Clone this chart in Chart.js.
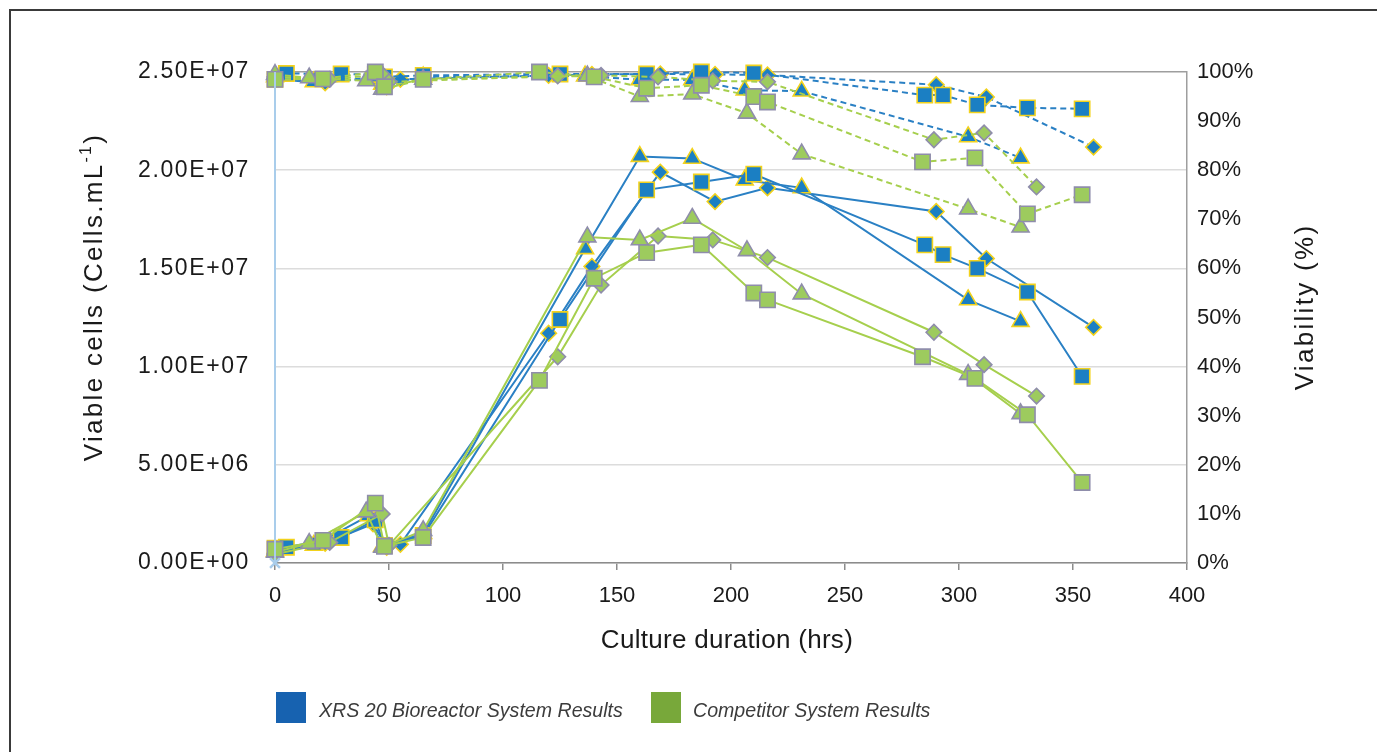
<!DOCTYPE html>
<html><head><meta charset="utf-8">
<script src="https://cdn.jsdelivr.net/npm/chart.js@4.4.1/dist/chart.umd.min.js"></script>
<style>
html,body{margin:0;padding:0;background:#fff;overflow:hidden;width:1377px;height:752px;}
#wrap{position:relative;width:1377px;height:752px;overflow:hidden;}
#frame{position:absolute;left:9px;top:9px;width:1400px;height:800px;border:2px solid #3a3a3a;box-sizing:border-box;}
canvas{position:absolute;left:0;top:0;}
.sw{position:absolute;width:30px;height:31px;top:692px;}
.lt{position:absolute;top:695px;font:italic 19.6px "Liberation Sans",Arial,sans-serif;color:#3c3c3c;white-space:nowrap;line-height:30px;}
</style></head><body>
<div id="wrap"><div id="frame"></div><canvas id="c" width="1377" height="752"></canvas>
<div class="sw" style="left:276px;background:#1762b0"></div><div class="lt" style="left:319px">XRS 20 Bioreactor System Results</div>
<div class="sw" style="left:651px;background:#78a83a"></div><div class="lt" style="left:693px">Competitor System Results</div>
</div>
<script>
// ---- data (time in hours, viable cells per mL, viability %) ----
const xrsSqHours = [0, 5, 29, 44, 48, 65, 125, 163, 187, 210, 285, 293, 308, 330, 354];
const xrsSqCells = [0.75e6, 0.8e6, 1.3e6, 2.2e6, 0.9e6, 1.4e6, 1.24e7, 1.9e7, 1.94e7, 1.98e7, 1.62e7, 1.57e7, 1.5e7, 1.38e7, 9.5e6];
const xrsSqViab  = [98.5, 99.7, 99.6, 99.5, 99.0, 99.3, 99.6, 99.6, 100, 99.8, 95.3, 95.3, 93.3, 92.7, 92.5];

const xrsTriHours = [0, 17, 41, 47, 65, 136, 160, 183, 206, 231, 304, 327];
const xrsTriCells = [0.6e6, 0.9e6, 2.4e6, 0.85e6, 1.5e6, 1.6e7, 2.07e7, 2.06e7, 1.95e7, 1.91e7, 1.34e7, 1.23e7];
const xrsTriViab  = [99, 98, 98.5, 97.5, 99, 99.2, 98.4, 98.4, 96.3, 96.1, 86.8, 82.5];

const xrsDiaHours = [0, 22, 43, 49, 55, 120, 139, 169, 193, 216, 290, 312, 359];
const xrsDiaCells = [0.5e6, 1.0e6, 2.0e6, 0.8e6, 0.95e6, 1.17e7, 1.51e7, 1.99e7, 1.84e7, 1.91e7, 1.79e7, 1.55e7, 1.2e7];
const xrsDiaViab  = [98.5, 97.8, 99.0, 97.0, 98.5, 99.3, 99.5, 99.6, 99.5, 99.4, 97.4, 94.9, 84.7];

const compSqHours = [0, 21, 44, 48, 65, 116, 140, 163, 187, 210, 216, 284, 307, 330, 354];
const compSqCells = [0.7e6, 1.15e6, 3.05e6, 0.85e6, 1.3e6, 9.3e6, 1.45e7, 1.58e7, 1.62e7, 1.375e7, 1.34e7, 1.05e7, 9.4e6, 7.55e6, 4.1e6];
const compSqViab  = [98.5, 98.6, 100, 97, 98.5, 100, 99.0, 96.7, 97.3, 95.0, 93.9, 81.7, 82.5, 71.1, 75];

const compTriHours = [0, 15, 40, 47, 65, 137, 160, 183, 207, 231, 304, 327];
const compTriCells = [0.55e6, 1.0e6, 2.6e6, 0.8e6, 1.65e6, 1.66e7, 1.645e7, 1.755e7, 1.59e7, 1.37e7, 9.6e6, 7.6e6];
const compTriViab  = [99.5, 98.8, 98.2, 96.5, 98.5, 99.2, 95.0, 95.5, 91.6, 83.3, 72.1, 68.4];

const compDiaHours = [0, 24, 47, 50, 124, 143, 168, 192, 216, 289, 311, 334];
const compDiaCells = [0.45e6, 1.05e6, 2.5e6, 0.9e6, 1.05e7, 1.415e7, 1.665e7, 1.645e7, 1.555e7, 1.175e7, 1.01e7, 8.5e6];
const compDiaViab  = [99, 98.5, 99.5, 98, 99.2, 99.3, 99.0, 98.2, 98.0, 86.2, 87.6, 76.6];

const baselineHours = [0, 0];
const baselineViab  = [100, 0];

const xTicks = [0, 50, 100, 150, 200, 250, 300, 350, 400];
const legendLabels = ['XRS 20 Bioreactor System Results', 'Competitor System Results'];
const xTitle = 'Culture duration (hrs)';
const yTitle = 'Viable cells (Cells.mL';
const y2Title = 'Viability (%)';

// ---- styles ----
const BLUE = {fill:'#1b7fc3', border:'#f2d21c', line:'#2a80c4'};
const GREEN = {fill:'#9dcb5e', border:'#8f8dab', line:'#a6cf4d'};
const RAD = {rect:10.8, triangle:9.8, rectRot:7.8};

function pts(t, v){ return t.map((x,i)=>({x:x, y:v[i]})); }
function series(t, cells, viab, col, shape, ord){
  const common = {showLine:true, tension:0, clip:false, pointStyle:shape, pointRadius:RAD[shape],
    pointBackgroundColor:col.fill, pointBorderColor:col.border, pointBorderWidth:1.6,
    borderColor:col.line, borderWidth:2, order:ord, pointHoverRadius:RAD[shape]};
  return [
    Object.assign({}, common, {data:pts(t, cells), yAxisID:'y'}),
    Object.assign({}, common, {data:pts(t, viab), yAxisID:'y2', borderDash:[6,4]})
  ];
}
const datasets = [].concat(
  series(compSqHours, compSqCells, compSqViab, GREEN, 'rect', 1),
  series(compTriHours, compTriCells, compTriViab, GREEN, 'triangle', 1),
  series(compDiaHours, compDiaCells, compDiaViab, GREEN, 'rectRot', 1),
  series(xrsSqHours, xrsSqCells, xrsSqViab, BLUE, 'rect', 2),
  series(xrsTriHours, xrsTriCells, xrsTriViab, BLUE, 'triangle', 2),
  series(xrsDiaHours, xrsDiaCells, xrsDiaViab, BLUE, 'rectRot', 2),
  [{data:pts(baselineHours, baselineViab), yAxisID:'y2', showLine:true, clip:false,
    borderColor:'#a9cdeb', borderWidth:2, pointStyle:'crossRot',
    pointRadius:[0,7], pointBorderColor:'#a9cdeb', pointBorderWidth:2.5, order:0}]
);

function sci(v){
  if (v === 0) return '0.00E+00';
  const e = Math.floor(Math.log10(v) + 1e-9);
  const m = v / Math.pow(10, e);
  return m.toFixed(2) + 'E+' + String(e).padStart(2, '0');
}

const FONT = '"Liberation Sans", Arial, sans-serif';
function spacedLabels(spacing){
  return function(s){
    if (s._spaced) return;
    const orig = s.drawLabels;
    s.drawLabels = function(a){ const c = this.ctx; c.save(); c.letterSpacing = spacing; orig.call(this, a); c.restore(); };
    s._spaced = true;
  };
}
const titles = {
  id:'titles',
  afterDraw(chart){
    const c = chart.ctx;
    c.save();
    c.fillStyle = '#1a1a1a';
    c.textBaseline = 'middle';
    c.font = '26px ' + FONT;
    c.letterSpacing = '0.3px';
    c.textAlign = 'center';
    c.fillText(xTitle, 727, 641);
    // left title with superscript
    c.letterSpacing = '2.3px';
    c.save();
    c.translate(95, 297);
    c.rotate(-Math.PI/2);
    const big = '26px ' + FONT, small = '16px ' + FONT;
    c.font = big; const w1 = c.measureText(yTitle).width; const w3 = c.measureText(')').width;
    c.font = small; const w2 = c.measureText('-1').width;
    let x0 = -(w1 + w2 + w3) / 2;
    c.textAlign = 'left';
    c.font = big; c.fillText(yTitle, x0, 0);
    c.font = small; c.fillText('-1', x0 + w1, -8);
    c.font = big; c.fillText(')', x0 + w1 + w2, 0);
    c.restore();
    c.save();
    c.translate(1306, 307);
    c.rotate(-Math.PI/2);
    c.font = big; c.textAlign = 'center';
    c.fillText(y2Title, 0, 0);
    c.restore();
    c.restore();
  }
};

new Chart(document.getElementById('c'), {
  type:'scatter',
  data:{datasets:datasets},
  options:{
    responsive:false, animation:false, events:[],
    layout:{padding:{top:72, left:0, right:0, bottom:0}},
    plugins:{legend:{display:false}, tooltip:{enabled:false}},
    scales:{
      x:{type:'linear', min:0, max:400,
        afterBuildTicks(s){ s.ticks = xTicks.map(v=>({value:v})); },
        afterFit(s){ s.height = 752 - 563; },
        ticks:{font:{size:22, family:FONT}, color:'#1a1a1a', padding:13, maxRotation:0},
        grid:{drawOnChartArea:false, drawTicks:true, tickLength:7, color:'#8c8c8c', lineWidth:1.5},
        border:{color:'#8c8c8c', width:1.5}
      },
      y:{type:'linear', position:'left', min:0, max:2.5e7,
        ticks:{stepSize:5e6, callback:(v)=>sci(v), font:{size:23, family:FONT}, color:'#1a1a1a', padding:25},
        afterFit(s){ s.width = 275; },
        afterUpdate: spacedLabels('1.6px'),
        grid:{drawTicks:false, lineWidth:1.5, color:(ctx)=> (ctx.tick && ctx.tick.value === 2.5e7) ? '#9e9e9e' : '#dcdcdc'},
        border:{display:false}
      },
      y2:{type:'linear', position:'right', min:0, max:100,
        ticks:{stepSize:10, callback:(v)=>v + '%', font:{size:22, family:FONT}, color:'#1a1a1a', padding:10},
        afterFit(s){ s.width = 190; },
        grid:{display:false, drawTicks:false},
        border:{color:'#9e9e9e', width:1.5}
      }
    }
  },
  plugins:[titles]
});
</script>
</body></html>
